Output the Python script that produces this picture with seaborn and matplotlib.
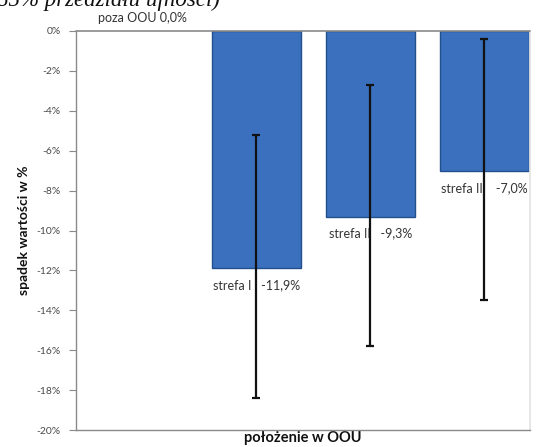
import matplotlib
matplotlib.use("Agg")
import matplotlib.pyplot as plt
import seaborn as sns
import pandas as pd
import numpy as np

# Spadek wartości nieruchomości w zależności od położenia względem OOU
categories = ["poza OOU", "strefa I", "strefa II", "strefa III"]
decline = [0.0, -11.9, -9.3, -7.0]          # średni spadek wartości, %
ci_upper = [0.0, -5.2, -2.7, -0.4]          # górna granica przedziału ufności, %
ci_lower = [0.0, -18.4, -15.8, -13.5]       # dolna granica przedziału ufności, %
y_ticks = [0, -2, -4, -6, -8, -10, -12, -14, -16, -18, -20]
caption = "85% przedziału ufności)"

df = pd.DataFrame({"strefa": categories, "spadek": decline})

sns.set_theme(style="white")
plt.rcParams["font.family"] = ["Lato", "DejaVu Sans"]

fig = plt.figure(figsize=(5.38, 4.47), dpi=100)
ax = fig.add_axes([76 / 538, 1 - 430 / 447, (530 - 76) / 538, (430 - 31) / 447])

sns.barplot(data=df, x="strefa", y="spadek", order=categories, ax=ax,
            color="#3a70be", edgecolor="#22508c", linewidth=1.0,
            width=0.774, saturation=1, errorbar=None)
for patch in ax.patches:
    if patch.get_height() == 0:
        patch.set_linewidth(0)

# przedziały ufności dla stref
xs = np.arange(len(categories))[1:]
means = np.array(decline[1:])
lo = means - np.array(ci_lower[1:])
hi = np.array(ci_upper[1:]) - means
ax.errorbar(xs, means, yerr=[lo, hi], fmt="none", ecolor="#111111",
            elinewidth=1.6, capsize=3, capthick=1.6, zorder=5)

ax.set_xlim(-0.583, 3.40)
ax.set_ylim(-20, 0)
ax.set_yticks(y_ticks)
ax.set_yticklabels([f"{t}%" for t in y_ticks], fontsize=7.5, color="#4a4a4a")
ax.set_xticks([])
ax.tick_params(axis="y", which="major", direction="out", length=5, width=0.8,
               color="#888888", left=True, pad=6)

for side in ["left", "bottom"]:
    ax.spines[side].set_color("#8a8a8a")
    ax.spines[side].set_linewidth(1.0)
ax.spines["right"].set_color("#e4e4e4")
ax.spines["top"].set_visible(False)
ax.axhline(0, color="#8a8a8a", linewidth=1.2, zorder=6, clip_on=False)

ax.set_xlabel("położenie w OOU", fontsize=10.5, fontweight="bold", color="#111111",
              labelpad=1)
ax.set_ylabel("spadek wartości w %", fontsize=10, fontweight="bold", color="#111111",
              labelpad=5)

# etykiety z wartościami
for i, (name, val) in enumerate(zip(categories, decline)):
    if val == 0:
        txt = f"{name} {val:.1f}%".replace(".", ",")
        ax.annotate(txt, xy=(i, 0), xytext=(0, 5), textcoords="offset points",
                    ha="center", va="bottom", fontsize=9, color="#333333",
                    annotation_clip=False)
    else:
        txt = f"{name}   {val:.1f}%".replace(".", ",")
        ax.annotate(txt, xy=(i, val), xytext=(0, -8), textcoords="offset points",
                    ha="center", va="top", fontsize=9, color="#333333",
                    annotation_clip=False)

fig.text(-0.005, 1.0, caption, ha="left", va="center", fontsize=16.5,
         family="Liberation Serif", style="italic", color="#111111")

fig.savefig("out.png", dpi=100)
